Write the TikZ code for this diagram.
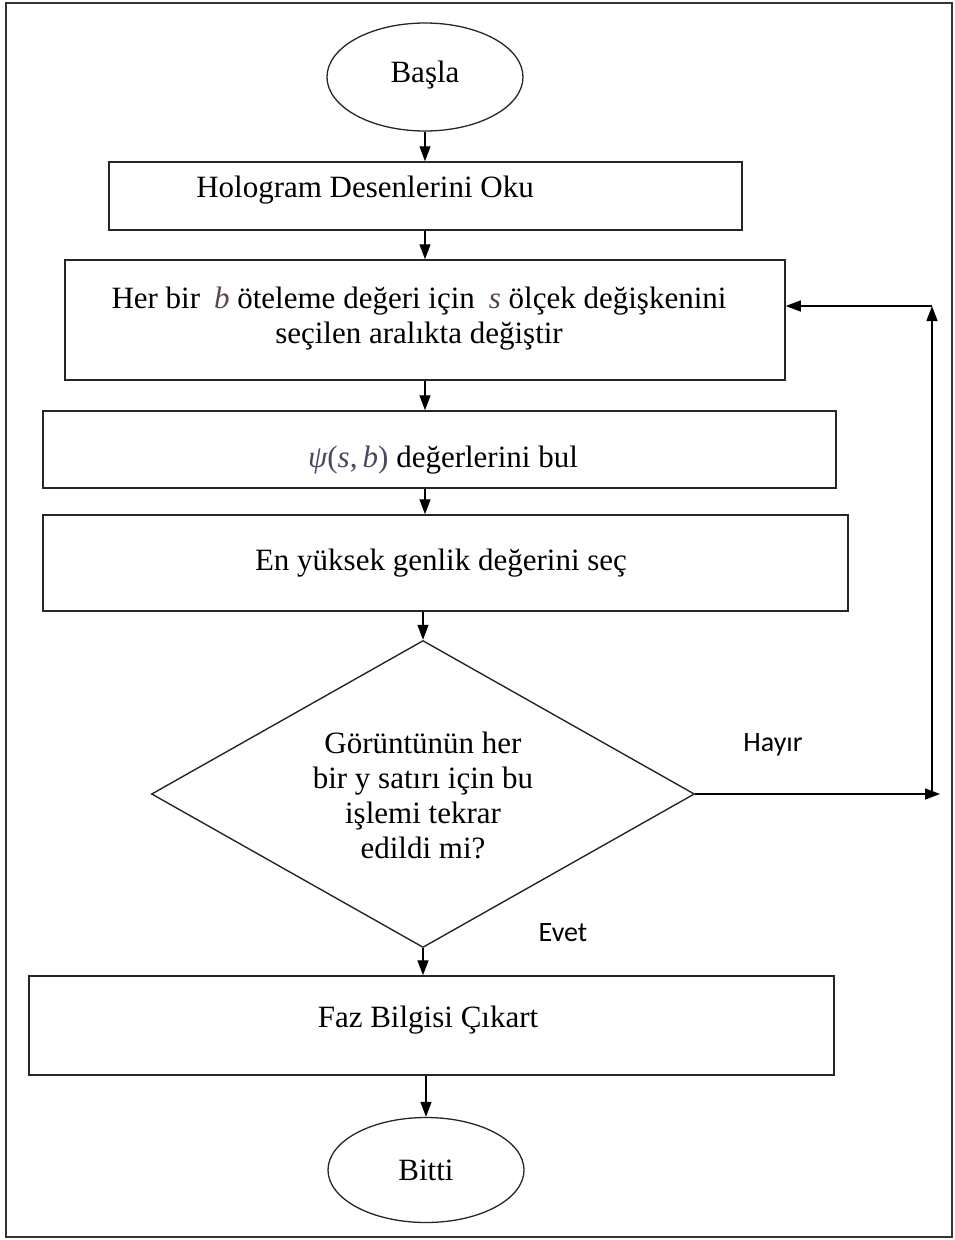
\documentclass[tikz,border=0pt]{standalone}
\usepackage{fontspec}
\setmainfont{Liberation Serif}
\newfontfamily\calib{Carlito}
\usetikzlibrary{arrows.meta,shapes.geometric}
\definecolor{varcol}{RGB}{90,70,70}
\definecolor{psicol}{RGB}{70,72,100}
\begin{document}
\begin{tikzpicture}[x=1pt,y=-1pt,
  box/.style={draw=black!85,line width=1.5pt,rectangle,inner sep=0pt},
  term/.style={draw=black!85,line width=1.3pt,ellipse,inner sep=0pt,minimum width=196pt},
  txt/.style={font=\fontsize{31}{35}\selectfont,align=center,inner sep=0pt},
  lbl/.style={font=\calib\fontsize{28}{34}\selectfont,inner sep=0pt},
  arr/.style={draw=black,line width=1.4pt,-{Triangle[length=15pt,width=11pt]}},
]
\useasboundingbox (0,0) rectangle (955,1240);
\draw[line width=2.2pt,black!80] (6,3) rectangle (952,1237);

% shapes
\node[term,minimum height=108pt] (basla) at (425,77) {};
\node[box,minimum width=633pt,minimum height=68pt] (box1) at (425.5,196) {};
\node[box,minimum width=720pt,minimum height=120pt] (box2) at (425,320) {};
\node[box,minimum width=793pt,minimum height=77pt] (box3) at (439.5,449.5) {};
\node[box,minimum width=805pt,minimum height=96pt] (box4) at (445.5,563) {};
\node[draw=black!85,line width=1.4pt,diamond,inner sep=0pt,minimum width=543pt,minimum height=307pt] (dia) at (423,794) {};
\node[box,minimum width=805pt,minimum height=99pt] (faz) at (431.5,1025.5) {};
\node[term,minimum height=105pt] (bitti) at (426,1170) {};

% texts
\node[txt] (tbasla) at (425,75) {Başla};
\node[txt] (t1) at (365,190) {Hologram Desenlerini Oku};
\node[txt] (t2) at (419,319) {Her bir\hspace{0.45em}{\itshape\color{varcol}b} öteleme değeri için\hspace{0.45em}{\itshape\color{varcol}s} ölçek değişkenini\\seçilen aralıkta değiştir};
\node[txt] (t3) at (443,460) {{\color{psicol}\itshape ψ\upshape(\itshape s\upshape,\,\itshape b\upshape)} değerlerini bul};
\node[txt] (t4) at (441,563) {En yüksek genlik değerini seç};
\node[txt] (t5) at (423,795) {Görüntünün her\\bir y satırı için bu\\işlemi tekrar\\edildi mi?};
\node[txt] (t6) at (428,1020) {Faz Bilgisi Çıkart};
\node[txt] (tbitti) at (426,1170) {Bitti};
\node[lbl] (hayir) at (773,745) {Hayır};
\node[lbl] (evet) at (563,933) {Evet};

% connectors
\coordinate (hend) at (940,794);
\coordinate (vbot) at (932,794);
\coordinate (vtop) at (932,306);
\draw[arr] (basla.south) -- (box1.north -| basla.south);
\draw[arr] (box1.south -| box2.north) -- (box2.north);
\draw[arr] (box2.south) -- (box3.north -| box2.south);
\draw[arr] (box3.south -| box2.south) -- (box4.north -| box2.south);
\draw[arr] (box4.south -| dia.north) -- (dia.north);
\draw[arr] (dia.south) -- (faz.north -| dia.south);
\draw[arr] (faz.south -| bitti.north) -- (bitti.north);
\draw[arr] (dia.east) -- (hend);
\draw[arr] (vbot) -- (vtop);
\draw[arr] (vtop) -- (vtop -| box2.east);
\end{tikzpicture}
\end{document}
